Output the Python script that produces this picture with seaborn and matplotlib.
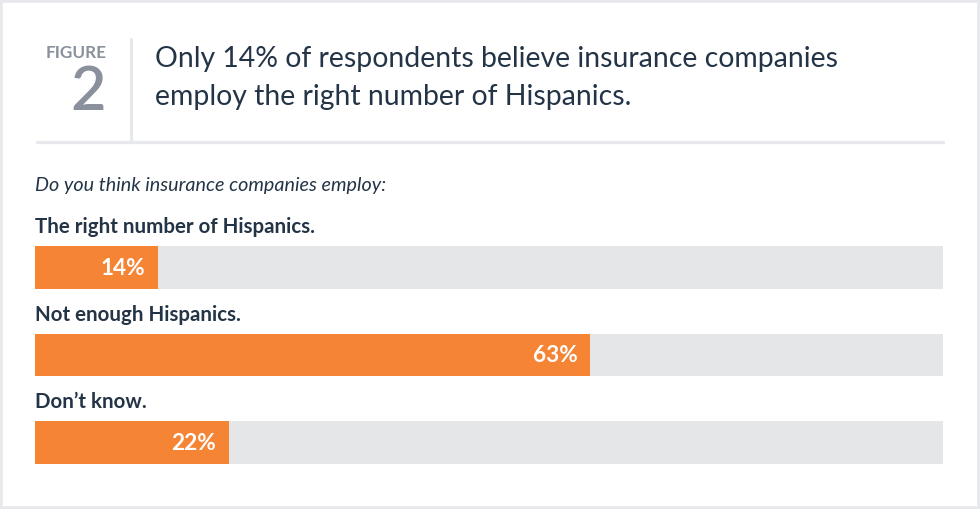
import matplotlib
matplotlib.use("Agg")
import matplotlib.pyplot as plt
from matplotlib.patches import Rectangle
from matplotlib.lines import Line2D
import seaborn as sns
import pandas as pd

# Survey answers and shares (percent)
answers = ["The right number of Hispanics.", "Not enough Hispanics.", "Don\u2019t know."]
shares = [14, 63, 22]
value_labels = ["14%", "63%", "22%"]

figure_tag = "FIGURE"
figure_number = "2"
title_lines = ["Only 14% of respondents believe insurance companies",
               "employ the right number of Hispanics."]
question = "Do you think insurance companies employ:"

ORANGE = "#f58434"
TRACK = "#e5e6e8"
INK = "#243447"
MUTED = "#8a919c"
RULE = "#e6e8eb"
SCALE_MAX = 103  # value at the right end of the grey track

sns.set_theme(style="white")
plt.rcParams["font.family"] = ["Lato", "DejaVu Sans"]

W, H = 980, 510
fig = plt.figure(figsize=(W / 100, H / 100), dpi=100)
fig.patch.set_facecolor("white")


def fx(px):
    return px / W


def fy(py):
    return 1 - py / H


# card outline
fig.add_artist(Rectangle((fx(1), fy(508.5)), fx(977.5), 507 / H,
                         transform=fig.transFigure, facecolor="none",
                         edgecolor=RULE, linewidth=2.6))

# header
fig.text(fx(107), fy(53.5), figure_tag, ha="right", va="center",
         fontsize=12.3, fontweight="bold", color=MUTED)
fig.text(fx(106), fy(92), figure_number, ha="right", va="center",
         fontsize=44, fontweight="semibold", color=MUTED)
fig.add_artist(Line2D([fx(130.5), fx(130.5)], [fy(40), fy(141)],
                      transform=fig.transFigure, color=RULE, lw=2.2))
fig.add_artist(Line2D([fx(37), fx(943)], [fy(143), fy(143)],
                      transform=fig.transFigure, color=RULE, lw=2.4))
fig.text(fx(155), fy(59), title_lines[0], ha="left", va="center",
         fontsize=20.4, color=INK)
fig.text(fx(155), fy(97), title_lines[1], ha="left", va="center",
         fontsize=20.4, color=INK)
fig.text(fx(35), fy(185), question, ha="left", va="center",
         fontsize=14.2, style="italic", color=INK)

# bars
bar_w = 0.49
ax = fig.add_axes([fx(35), fy(464.7), fx(943 - 35), (464.7 - 247.3) / H])
df = pd.DataFrame({"answer": answers, "share": shares,
                   "track": [SCALE_MAX] * len(answers)})
sns.barplot(data=df, x="track", y="answer", orient="h", color=TRACK,
            width=bar_w, saturation=1, linewidth=0, ax=ax)
sns.barplot(data=df, x="share", y="answer", orient="h", color=ORANGE,
            width=bar_w, saturation=1, linewidth=0, ax=ax)
ax.set_xlim(0, SCALE_MAX)
ax.set_ylim(len(answers) - 1 + bar_w / 2, -bar_w / 2)
ax.axis("off")

for i, (ans, v, lab) in enumerate(zip(answers, shares, value_labels)):
    ax.text(0, i - 0.475, ans, ha="left", va="center", fontsize=14.8,
            fontweight="bold", color=INK, clip_on=False)
    ax.text(v - 1.47, i, lab, ha="right", va="center", fontsize=16.3,
            fontweight="bold", color="white")

fig.savefig("out.png", dpi=100, facecolor="white")
